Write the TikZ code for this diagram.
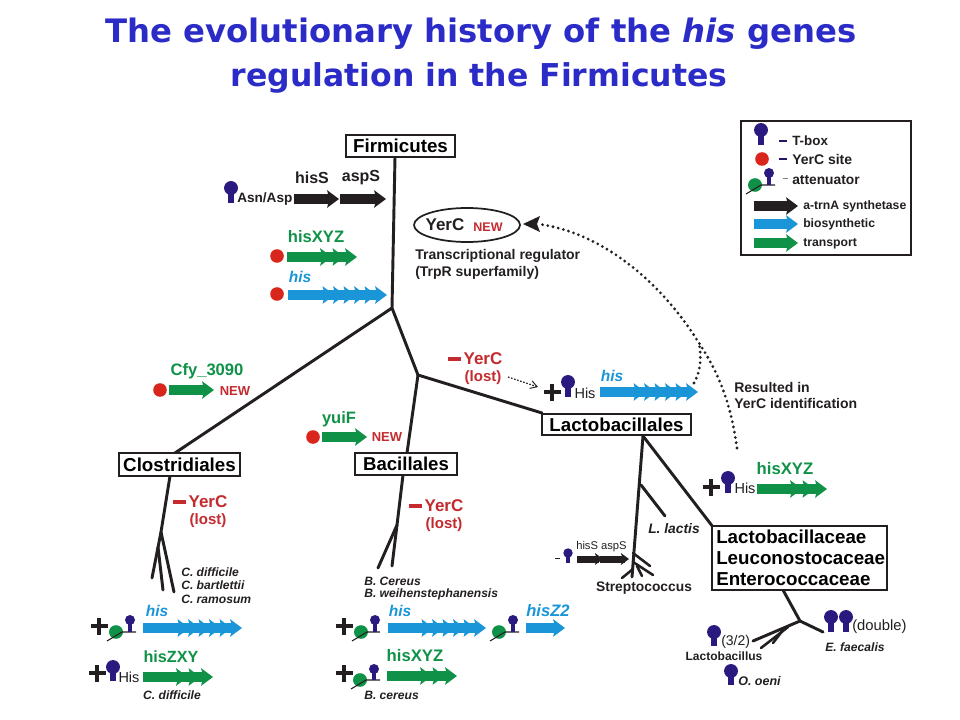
\documentclass[tikz,border=0pt]{standalone}
\usepackage{fontspec}
\setmainfont{Liberation Sans}
\newfontfamily\titlefont{DejaVu Sans}
\usetikzlibrary{arrows.meta}
\definecolor{gblue}{HTML}{1A96D8}
\definecolor{ggreen}{HTML}{0F9247}
\definecolor{gblack}{HTML}{231F20}
\definecolor{gred}{HTML}{D9261C}
\definecolor{rtext}{HTML}{C42A2E}
\definecolor{navy}{HTML}{2A1A80}
\definecolor{ttl}{HTML}{2B2BC8}
\newcommand\pxf[1]{\pgfmathsetmacro\tmpfs{#1*.75}\fontsize{\tmpfs}{\tmpfs}\selectfont}
% name, anchor, x, y, size, colour, text
\newcommand\tx[7]{\node[anchor=#2,inner sep=0pt,text=#6] (#1) at (#3,#4) {\pxf{#5}\bfseries #7};}
% colour, x0, x1, y, chevrons, step, shaft half height, head half height
\newcommand\gene[8]{%
  \pgfmathsetmacro\hl{#8*1.35}%
  \pgfmathsetmacro\he{#3-\hl+4}%
  \fill[#1] (#2,#4-#7) rectangle (\he,#4+#7);
  \foreach \i in {0,...,#5}{%
    \pgfmathsetmacro\tip{#3-\i*#6}%
    \fill[#1] (\tip,#4) -- (\tip-\hl,#4-#8) -- (\tip-\hl+2,#4) -- (\tip-\hl,#4+#8) -- cycle;
  }}
% head x, head y, radius, bottom y
\newcommand\tbx[4]{%
  \fill[navy] (#1,#2) circle[radius=#3*1.07];
  \fill[navy] (#1-#3*.5,#2) -- (#1+#3*.5,#2) -- (#1+#3*.5,#4) -- (#1-#3*.5,#4) -- cycle;}
\newcommand\atn[4]{% ellipse x, y, line right end, head-y
  \fill[ggreen] (#1,#2) ellipse[x radius=7,y radius=6.8];
  \draw[gblack,line width=.8pt] (#1-9,#2+9) -- (#1+6,#2) -- (#3,#2);
  \fill[navy] (#1+14,#4) circle[radius=5];
  \fill[navy] (#1+11.7,#4) rectangle (#1+16.3,#2);}
\newcommand\site[2]{\fill[gred] (#1,#2) circle[radius=6.8];}
\newcommand\pls[2]{\fill[gblack] (#1-8.5,#2-1.8) rectangle (#1+8.5,#2+1.8);\fill[gblack] (#1-1.8,#2-8.5) rectangle (#1+1.8,#2+8.5);}
\newcommand\dsh[2]{\fill[rtext] (#1-6.5,#2-2) rectangle (#1+6.5,#2+2);}
\tikzset{
  branch/.style={gblack,line width=2.2pt,line cap=round},
  twig/.style={gblack,line width=1.9pt,line cap=round},
  labelbox/.style={draw=gblack,line width=1.3pt,fill=white,inner sep=0pt,anchor=center},
  dotline/.style={gblack,line width=2.3pt,line cap=round,dash pattern=on 0pt off 4pt},
}
\begin{document}
\begin{tikzpicture}[x=0.75pt,y=-0.75pt]
\useasboundingbox (0,0) rectangle (960,720);
\fill[white] (0,0) rectangle (960,720);
% title
\node[inner sep=0pt,text=ttl] (t1) at (481,34) {\titlefont\pxf{32.3}\bfseries The evolutionary history of the \itshape his\upshape\ genes};
\node[inner sep=0pt,text=ttl] (t2) at (479,78) {\titlefont\pxf{31.5}\bfseries regulation in the Firmicutes};
% tree coordinates
\coordinate (firmtop) at (395,157);
\coordinate (j1) at (392,308);
\coordinate (clotop) at (175,453);
\coordinate (j2) at (418,375);
\coordinate (bactop) at (407,453);
\coordinate (lactop) at (542,413);
\coordinate (clobot) at (170,476);
\coordinate (j3) at (161,532);
\coordinate (c1) at (152,578);
\coordinate (c1a) at (158,547);
\coordinate (c2) at (163,590);
\coordinate (c3) at (174,592);
\coordinate (bacbot) at (403,475);
\coordinate (j4) at (397,525);
\coordinate (b1) at (378,568);
\coordinate (b2) at (392,566);
\coordinate (labot) at (643,436);
\coordinate (lastr) at (632,577);
\coordinate (la1) at (641,485);
\coordinate (la2) at (665,516);
\coordinate (lafam) at (713,527);
\coordinate (s0) at (633,553);
\coordinate (s1) at (650,566);
\coordinate (s2a) at (633,562);
\coordinate (s2) at (653,575);
\coordinate (s3a) at (637,566);
\coordinate (s3) at (642,576);
\coordinate (s4a) at (633,569);
\coordinate (s4) at (622,578);
\coordinate (fambot) at (783,590);
\coordinate (j5) at (800,621);
\coordinate (f1) at (823,632);
\coordinate (f2) at (753,641);
\coordinate (f3a) at (788,627);
\coordinate (f3) at (761,648);
\coordinate (f4a) at (783,630);
\coordinate (f4) at (773,643);
\draw[branch] (firmtop) -- (j1) -- (clotop);
\draw[branch] (j1) -- (j2) -- (lactop);
\draw[branch] (j2) -- (bactop);
\draw[branch] (clobot) -- (j3) -- (c3);
\draw[branch] (j3) -- (c1);
\draw[branch] (c1a) -- (c2);
\draw[branch] (bacbot) -- (j4) -- (b1);
\draw[branch] (j4) -- (b2);
\draw[branch] (labot) -- (lastr);
\draw[branch] (labot) -- (lafam);
\draw[branch] (la1) -- (la2);
\draw[twig] (s0) -- (s1);
\draw[twig] (s2a) -- (s2);
\draw[twig] (s3a) -- (s3);
\draw[twig] (s4a) -- (s4);
\draw[branch] (fambot) -- (j5) -- (f1);
\draw[branch] (j5) -- (f2);
\draw[twig] (f3a) -- (f3);
\draw[twig] (f4a) -- (f4);
% boxes
\node[labelbox,minimum width=81.75pt,minimum height=16.5pt] (firm) at (400.5,146) {\pxf{18.75}\bfseries Firmicutes};
\node[labelbox,minimum width=90.75pt,minimum height=17.25pt] (clo) at (179.5,464.5) {\pxf{18.75}\bfseries Clostridiales};
\node[labelbox,minimum width=76.5pt,minimum height=16.5pt] (bac) at (406,464) {\pxf{18.6}\bfseries Bacillales};
\node[labelbox,minimum width=111.75pt,minimum height=15.75pt] (lac) at (616.5,424.5) {\pxf{18.7}\bfseries Lactobacillales};
\node[labelbox,minimum width=131.25pt,minimum height=47.5pt] (fam) at (799.5,558) {};
\tx{fam1}{west}{716}{537}{18.75}{black}{Lactobacillaceae}
\tx{fam2}{west}{716}{558}{18.75}{black}{Leuconostocaceae}
\tx{fam3}{west}{716}{579}{18.75}{black}{Enterococcaceae}
% legend
\node[draw=gblack,line width=1.3pt,minimum width=127.5pt,minimum height=100.5pt,inner sep=0pt] (leg) at (826,188) {};
\tbx{761}{130}{6.5}{145}
\fill[navy!80!black] (779,140) rectangle (787,142);
\tx{l1}{west}{792}{141}{13.4}{gblack}{T-box}
\site{762}{159}
\fill[navy!80!black] (779,158) rectangle (787,160);
\tx{l2}{west}{792}{159}{14}{gblack}{YerC site}
\atn{755}{185}{775}{173}
\fill[gray] (783,178) rectangle (788,179.5);
\tx{l3}{west}{792}{180}{13.8}{gblack}{attenuator}
\gene{gblack}{754}{798}{206}{0}{0}{5.2}{8.8}
\tx{l4}{west}{803}{206}{12.2}{gblack}{a-trnA synthetase}
\gene{gblue}{754}{798}{224}{0}{0}{5.2}{8.8}
\tx{l5}{west}{803}{224}{12.2}{gblack}{biosynthetic}
\gene{ggreen}{754}{798}{243}{0}{0}{5.2}{8.8}
\tx{l6}{west}{803}{244}{12.2}{gblack}{transport}
% Firmicutes genes
\tbx{231}{188}{6.5}{203}
\tx{aa}{west}{237}{199}{13.6}{gblack}{Asn/Asp}
\tx{hs}{center}{312}{178}{16}{gblack}{hisS}
\tx{as}{center}{361}{178}{16}{gblack}{aspS}
\gene{gblack}{294}{339}{199}{0}{0}{5.2}{8.8}
\gene{gblack}{340}{386}{199}{0}{0}{5.2}{8.8}
\tx{hx}{center}{316}{237}{16.6}{ggreen}{hisXYZ}
\site{277}{256}
\gene{ggreen}{287}{357}{257}{2}{12.5}{5.2}{8.8}
\tx{hi}{center}{300}{277}{15.5}{gblue}{\itshape his}
\site{277}{294}
\gene{gblue}{288}{387}{295}{5}{10.5}{5.2}{8.8}
% YerC ellipse
\draw[gblack,line width=1.3pt] (467,225) ellipse[x radius=53,y radius=17];
\node[inner sep=0pt,text=gblack] (yc) at (445,225) {\pxf{17}\bfseries YerC};
\node[inner sep=0pt,text=rtext] (ycn) at (488,227) {\pxf{12.5}\bfseries NEW};
\tx{tr1}{west}{415}{256}{14}{gblack}{Transcriptional regulator}
\tx{tr2}{west}{415}{273}{14}{gblack}{(TrpR superfamily)}
% Clostridiales gain
\tx{cf}{center}{207}{371}{16.6}{ggreen}{Cfy\_3090}
\site{160}{390}
\gene{ggreen}{169}{214}{390}{0}{0}{5.2}{8.8}
\tx{cfn}{center}{235}{391}{13}{rtext}{NEW}
% Bacillales gain
\tx{yu}{center}{339}{419}{16.5}{ggreen}{yuiF}
\site{313}{437}
\gene{ggreen}{322}{367}{437}{0}{0}{5.2}{8.8}
\tx{yun}{center}{387}{437}{13}{rtext}{NEW}
% YerC lost
\dsh{454}{359}
\tx{yl1}{center}{483}{359}{17}{rtext}{YerC}
\tx{yl2}{center}{483}{378}{15}{rtext}{(lost)}
\coordinate (da1) at (508,377);
\coordinate (da2) at (538,387);
\draw[gblack,line width=.9pt,dash pattern=on 1.2pt off 1.2pt,-{Straight Barb[length=5pt,width=6pt,line width=.7pt]}] (da1) -- (da2);
\pls{552}{392}
\tbx{568}{382}{6.5}{397}
\tx{lh}{center}{585}{393}{14.5}{gblack}{\mdseries His}
\tx{lhi}{center}{612}{376}{15.5}{gblue}{\itshape his}
\gene{gblue}{600}{698}{392}{5}{10.5}{5.2}{8.8}
% dotted curves
\coordinate (dA) at (737,448);
\coordinate (dB) at (699,343);
\coordinate (dC) at (538,224);
\coordinate (dD) at (694,383);
\coordinate (dE) at (523,224);
\draw[dotline] (dA) .. controls (731,405) and (720,375) .. (dB) .. controls (660,280) and (600,232) .. (dC);
\draw[dotline] (dD) .. controls (700,372) and (702,360) .. (dB);
\fill[gblack] (dE) -- (540,216) -- (537,224) -- (540,232) -- cycle;
\tx{re1}{west}{734}{387}{14}{gblack}{Resulted in}
\tx{re2}{west}{734}{403}{14}{gblack}{YerC identification}
% Clostridiales lower
\dsh{179}{502}
\tx{cy1}{center}{208}{502}{17}{rtext}{YerC}
\tx{cy2}{center}{208}{521}{15}{rtext}{(lost)}
\tx{cd1}{west}{181}{572}{12.1}{gblack}{\itshape C. difficile}
\tx{cd2}{west}{181}{585}{12.1}{gblack}{\itshape C. bartlettii}
\tx{cd3}{west}{181}{599}{12.1}{gblack}{\itshape C. ramosum}
\pls{99}{626}
\atn{116}{632}{136}{620}
\tx{ch}{center}{157}{611}{15.5}{gblue}{\itshape his}
\gene{gblue}{143}{242}{628}{5}{10.5}{5.2}{8.8}
\pls{97}{673}
\tbx{113}{667}{6.5}{681}
\tx{cHis}{center}{129}{677}{14.5}{gblack}{\mdseries His}
\tx{cz}{center}{171}{657}{16.2}{ggreen}{hisZXY}
\gene{ggreen}{143}{213}{677}{2}{12.5}{5.2}{8.8}
\tx{cdf}{center}{172}{695}{12.1}{gblack}{\itshape C. difficile}
% Bacillales lower
\dsh{415}{506}
\tx{by1}{center}{444}{506}{17}{rtext}{YerC}
\tx{by2}{center}{444}{525}{15}{rtext}{(lost)}
\tx{bc1}{west}{364}{581}{12.1}{gblack}{\itshape B. Cereus}
\tx{bc2}{west}{364}{594}{12.1}{gblack}{\itshape B. weihenstephanensis}
\pls{344}{626}
\atn{361}{632}{380}{620}
\tx{bh}{center}{400}{611}{15.5}{gblue}{\itshape his}
\gene{gblue}{388}{486}{628}{5}{10.5}{5.2}{8.8}
\atn{499}{632}{519}{620}
\tx{bz}{center}{548}{611}{16.6}{gblue}{\itshape hisZ2}
\gene{gblue}{526}{565}{628}{0}{0}{5.2}{8.8}
\pls{344}{673}
\atn{360}{680}{380}{669}
\tx{bx}{center}{415}{656}{16.7}{ggreen}{hisXYZ}
\gene{ggreen}{387}{457}{676}{2}{12.5}{5.2}{8.8}
\tx{bce}{west}{364}{695}{12.1}{gblack}{\itshape B. cereus}
% Lactobacillales lower
\tx{ll}{center}{674}{529}{13.8}{gblack}{\itshape L. lactis}
\fill[gblack] (555,557.5) rectangle (560,559);
\tbx{568}{553}{4.4}{563}
\tx{ls}{west}{576}{547}{11.2}{gblack}{\mdseries hisS aspS}
\gene{gblack}{577}{603}{559}{0}{0}{3.5}{6}
\gene{gblack}{600}{629}{559}{0}{0}{3.5}{6}
\tx{st}{center}{644}{588}{13.8}{gblack}{Streptococcus}
\pls{711}{487}
\tbx{728}{478}{6.5}{493}
\tx{fh}{center}{745}{488}{14.5}{gblack}{\mdseries His}
\tx{fx}{center}{785}{469}{16.7}{ggreen}{hisXYZ}
\gene{ggreen}{757}{827}{489}{2}{12.5}{5.2}{8.8}
\tbx{714}{632}{6.5}{646}
\tx{r32}{west}{721}{642}{14}{gblack}{\mdseries (3/2)}
\tx{rl}{center}{724}{656}{12}{gblack}{Lactobacillus}
\tbx{731}{671}{6.5}{685}
\tx{ro}{west}{738}{681}{12.5}{gblack}{\itshape O. oeni}
\tbx{831}{617}{6.5}{632}
\tbx{846}{617}{6.5}{632}
\tx{rd}{west}{852}{627}{14.8}{gblack}{\mdseries (double)}
\tx{re}{center}{855}{647}{12.1}{gblack}{\itshape E. faecalis}
\end{tikzpicture}
\end{document}
